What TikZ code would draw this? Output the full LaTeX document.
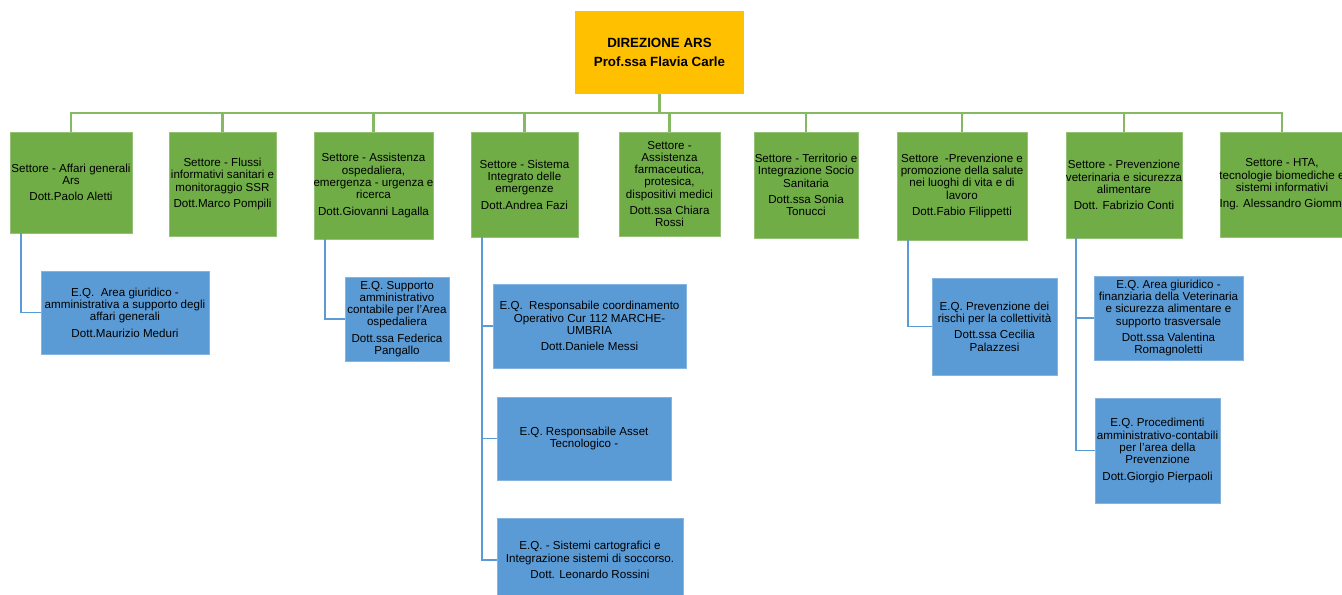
\documentclass[tikz,border=0pt]{standalone}
\usepackage{fontspec}
\setmainfont{Liberation Sans}
\usepackage{tikz}
\usetikzlibrary{positioning}
\definecolor{arsorange}{HTML}{FFC000}
\definecolor{arsgreen}{HTML}{70AD47}
\definecolor{arsblue}{HTML}{5B9BD5}

\begin{document}
\begin{tikzpicture}[x=0.75pt,y=-0.75pt,
  box/.style 2 args={rectangle, inner xsep=-3pt, inner ysep=1pt, align=center, font=\fontsize{8.7}{9.2}\selectfont, minimum width=0.75pt*#1, minimum height=0.75pt*#2},
  settore/.style={fill=arsgreen, draw=arsgreen!75!white, line width=0.6pt},
  eq/.style={fill=arsblue, draw=arsblue!75!white, line width=0.6pt},
  tree/.style={draw=arsgreen!85!white, line width=1.6pt},
  eqline/.style={draw=arsblue, line width=1.3pt}]
\useasboundingbox (0,0) rectangle (1342,595);

\node[rectangle, fill=arsorange, minimum width=126.75pt, minimum height=62.25pt, align=center, font=\fontsize{10}{14}\selectfont\bfseries] (dir) at (659.5,52.5) {DIREZIONE ARS\\Prof.ssa Flavia Carle};

\node[settore, box={122}{101}] (s1) at (71,182.5) {Settore - Affari generali\\Ars\\[3pt]Dott.Paolo Aletti};
\node[settore, box={107}{104}] (s2) at (222.5,184) {Settore - Flussi\\informativi sanitari e\\monitoraggio SSR\\[3pt]Dott.Marco Pompili};
\node[settore, box={119}{107}] (s3) at (373.5,185.5) {Settore - Assistenza\\ospedaliera,\\emergenza - urgenza e\\ricerca\\[3pt]Dott.Giovanni Lagalla};
\node[settore, box={107}{105}] (s4) at (524.5,184.5) {Settore - Sistema\\Integrato delle\\emergenze\\[3pt]Dott.Andrea Fazi};
\node[settore, box={101}{104}] (s5) at (669.5,184) {Settore -\\Assistenza\\farmaceutica,\\protesica,\\dispositivi medici\\[3pt]Dott.ssa Chiara\\Rossi};
\node[settore, box={104}{106}] (s6) at (806,185) {Settore - Territorio e\\Integrazione Socio\\Sanitaria\\[3pt]Dott.ssa Sonia\\Tonucci};
\node[settore, box={130}{108}] (s7) at (962,186) {Settore \ -Prevenzione e\\promozione della salute\\nei luoghi di vita e di\\lavoro\\[3pt]Dott.Fabio Filippetti};
\node[settore, box={116}{106}] (s8) at (1124,185) {Settore - Prevenzione\\veterinaria e sicurezza\\alimentare\\[3pt]Dott. Fabrizio Conti};
\node[settore, box={124}{105}] (s9) at (1282,184.5) {Settore - HTA,\\tecnologie biomediche e\\sistemi informativi\\[3pt]Ing. Alessandro Giommi};

\node[eq, box={168}{83}] (e1) at (125,312.5) {E.Q.\ \ Area giuridico -\\amministrativa a supporto degli\\affari generali\\[3pt]Dott.Maurizio Meduri};
\node[eq, box={104}{84}] (e2) at (397,319) {E.Q. Supporto\\amministrativo\\contabile per l'Area\\ospedaliera\\[3pt]Dott.ssa Federica\\Pangallo};
\node[eq, box={193}{84}] (e3) at (589.5,326) {E.Q.\ \ Responsabile coordinamento\\Operativo Cur 112 MARCHE-\\UMBRIA\\[3pt]Dott.Daniele Messi};
\node[eq, box={174}{83}] (e4) at (584,438.5) {E.Q. Responsabile Asset\\Tecnologico -};
\node[eq, box={186}{84}] (e5) at (590,560) {E.Q. - Sistemi cartografici e\\Integrazione sistemi di soccorso.\\[3pt]Dott. Leonardo Rossini};
\node[eq, box={125}{97}] (e6) at (994.5,326.5) {E.Q. Prevenzione dei\\rischi per la collettività\\[3pt]Dott.ssa Cecilia\\Palazzesi};
\node[eq, box={149}{84}] (e7) at (1168.5,318) {E.Q. Area giuridico -\\finanziaria della Veterinaria\\e sicurezza alimentare e\\supporto trasversale\\[3pt]Dott.ssa Valentina\\Romagnoletti};
\node[eq, box={125}{105}] (e8) at (1157.5,450.5) {E.Q. Procedimenti\\amministrativo-contabili\\per l'area della\\Prevenzione\\[3pt]Dott.Giorgio Pierpaoli};

\coordinate (bus) at (0,113);
\foreach \i in {1,...,9}
  \draw[tree] (dir.south) |- (s\i.north |- bus) -- (s\i.north);

\draw[eqline] ([xshift=8.5pt]s1.south west) |- (e1.west);
\draw[eqline] ([xshift=8.5pt]s3.south west) |- (e2.west);
\draw[eqline] ([xshift=8.5pt]s4.south west) |- (e3.west);
\draw[eqline] ([xshift=8.5pt]s4.south west) |- (e4.west);
\draw[eqline] ([xshift=8.5pt]s4.south west) |- (e5.west);
\draw[eqline] ([xshift=8.5pt]s7.south west) |- (e6.west);
\draw[eqline] ([xshift=8pt]s8.south west) |- (e7.west);
\draw[eqline] ([xshift=8pt]s8.south west) |- (e8.west);
\end{tikzpicture}
\end{document}
